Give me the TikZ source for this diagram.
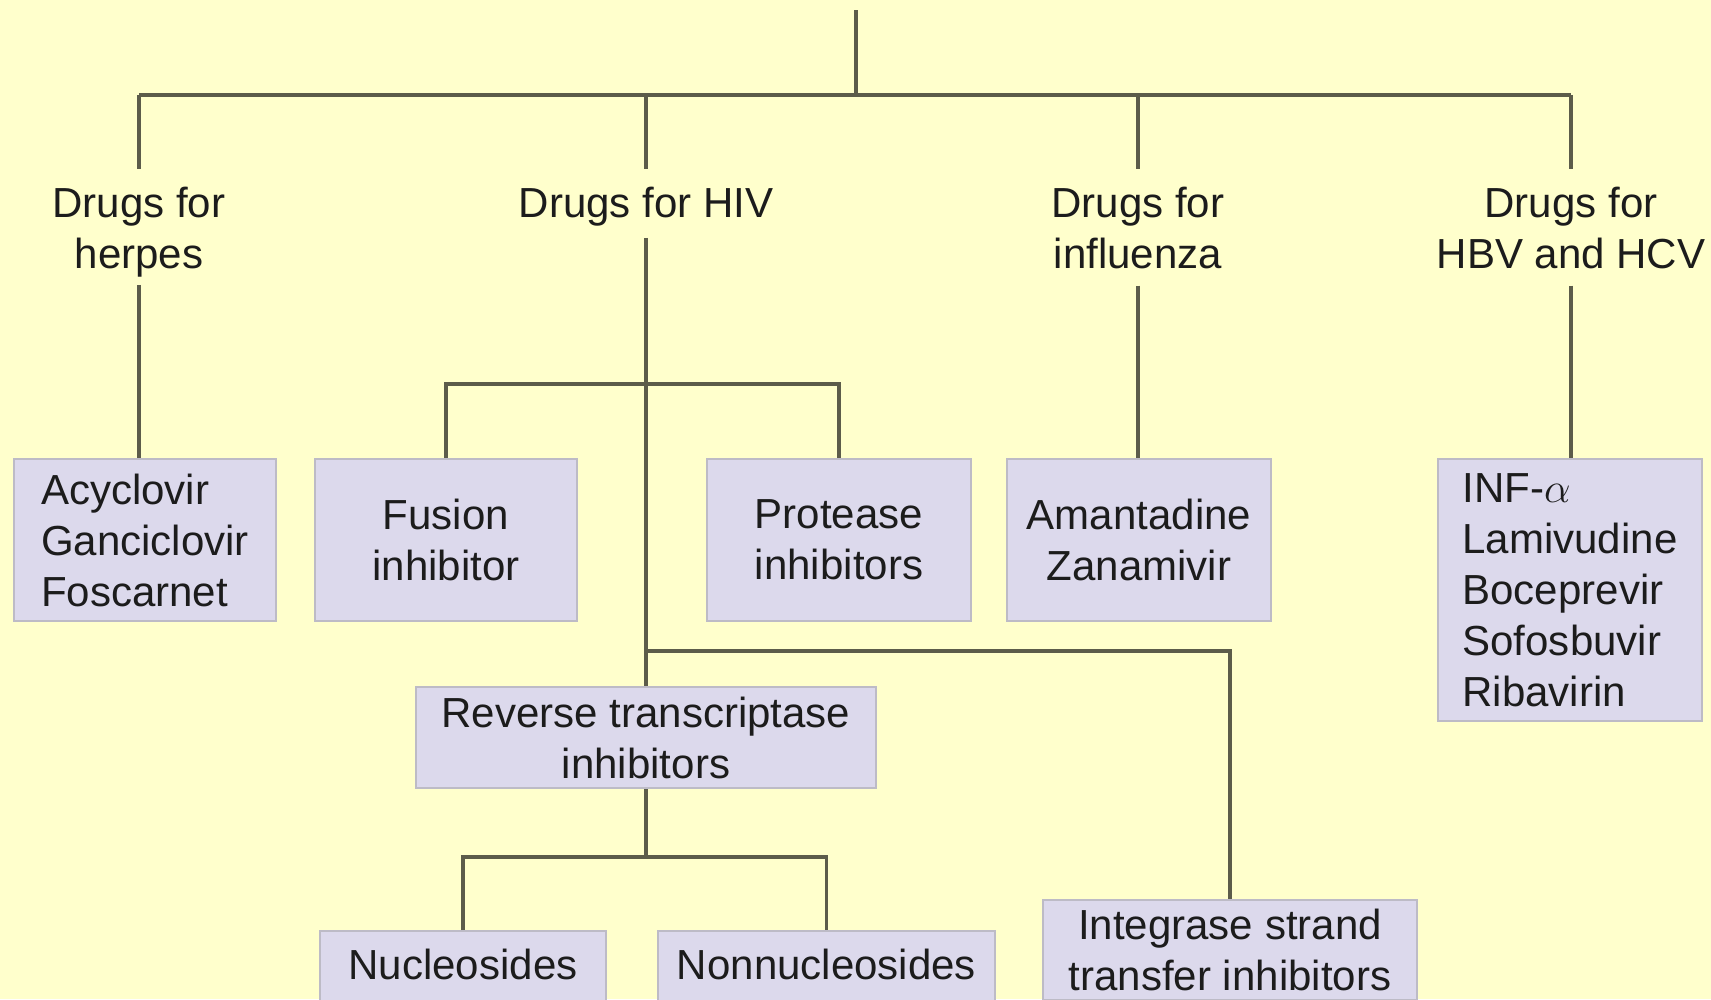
\documentclass[tikz,border=0pt]{standalone}
\usepackage{fontspec}
\setmainfont{Liberation Sans}

\definecolor{paper}{HTML}{FFFFCC}
\definecolor{wirec}{HTML}{5C5C4A}
\definecolor{boxfill}{HTML}{DCD9EC}
\definecolor{boxline}{HTML}{BDBBC6}
\definecolor{ink}{HTML}{1C1C1C}

\begin{document}
\begin{tikzpicture}[%
    x=0.01cm, y=-0.01cm,       % one unit per pixel, y runs downwards
    font=\fontsize{11.95pt}{14.51pt}\selectfont,
    ]
% -------------------------------------------------
% Box and line styles
\tikzset{
  drugbox/.style={draw=boxline, fill=boxfill, line width=0.6pt, inner sep=0pt,
    align=center, text=ink, minimum height=1.62cm},
  % bottom row runs off the page
  lowbox/.style={drugbox, anchor=north, minimum height=0pt,
    inner ysep=0.17cm, text height=0.31cm, text depth=0.15cm},
  lbl/.style={inner sep=0pt, align=center, text=ink, anchor=north},
  wire/.style={draw=wirec, line width=0.9pt}
}
% -------------------------------------------------
% Page
\useasboundingbox (0,0) rectangle (1711,999);
\clip (0,0) rectangle (1711,999);
\fill[paper] (0,0) rectangle (1711,999);

% First level: drug groups
\node [lbl] (herp) at (139,186.4) {Drugs for\\herpes};
\node [lbl] (hiv)  at (646,186.4) {Drugs for HIV};
\node [lbl] (flu)  at (1138,186.4) {Drugs for\\influenza};
\node [lbl] (hep)  at (1571,186.4) {Drugs for\\HBV and HCV};

% Boxes
\node [drugbox, minimum width=2.62cm, align=left] (acyc) at (145,540)
  {Acyclovir\\Ganciclovir\\Foscarnet};
\node [drugbox, minimum width=2.62cm] (fus) at (446,540) {Fusion\\inhibitor};
\node [drugbox, minimum width=2.63cm] (prot) at (839,540) {Protease\\inhibitors};
\node [drugbox, minimum width=2.63cm] (aman) at (1139,540) {Amantadine\\Zanamivir};
\node [drugbox, minimum width=2.63cm, minimum height=2.62cm, align=left] (hbv)
  at (1570,590) {INF-$\alpha$\\Lamivudine\\Boceprevir\\Sofosbuvir\\Ribavirin};
\node [drugbox, minimum width=4.60cm, minimum height=1.01cm] (rt) at (646,737.5)
  {Reverse transcriptase\\inhibitors};
\node [drugbox, minimum width=3.73cm, minimum height=1.00cm] (integ) at (1230,950)
  {Integrase strand\\transfer inhibitors};
\node [lowbox, minimum width=2.86cm] (nuc) at (463,930) {Nucleosides};
\node [lowbox, minimum width=3.37cm] (nonnuc) at (826.5,930) {Nonnucleosides};

% -------------------------------------------------
% Branch points
\coordinate (root) at (856,10);
\coordinate (bus)  at (856,95);
\coordinate (hivA) at (646,384);
\coordinate (hivB) at (646,651);
\coordinate (rtA)  at (646,857);

% Tree lines
\draw [wire] (root) -- (bus);
\draw [wire] (herp.north |- bus) -- (hep.north |- bus);
\foreach \n in {herp,hiv,flu,hep}
  \draw [wire, shorten >=0.17cm] (\n.north |- bus) -- (\n.north);

\draw [wire, shorten <=0.07cm] (herp.south) -- (herp.south |- acyc.north);
\draw [wire, shorten <=0.16cm] (flu.south) -- (flu.south |- aman.north);
\draw [wire, shorten <=0.16cm] (hep.south) -- (hep.south |- hbv.north);
\draw [wire, shorten <=0.11cm] (hiv.south) -- (rt.north);

\draw [wire] (fus.north) |- (hivA) -| (prot.north);
\draw [wire] (hivB) -| (integ.north);
\draw [wire] (rt.south) -- (rtA);
\draw [wire] (nuc.north) |- (rtA) -| (nonnuc.north);
% -------------------------------------------------
\end{tikzpicture}
\end{document}
